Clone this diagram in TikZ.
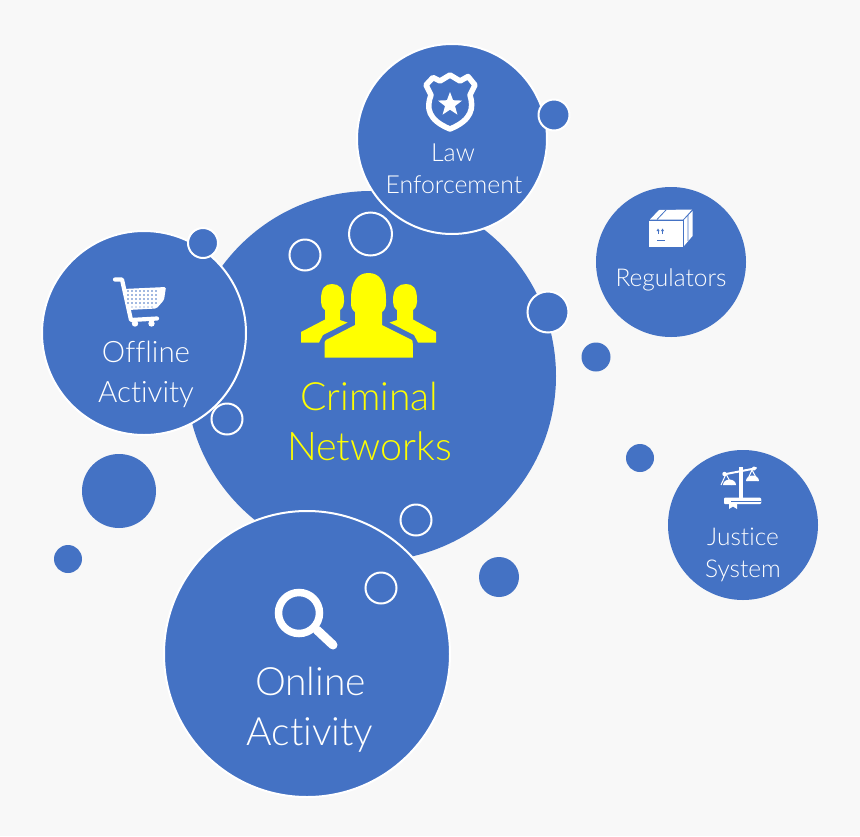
\documentclass[tikz,border=0pt]{standalone}
\usepackage{fontspec}
\setmainfont{Lato}[UprightFont=* Light,Ligatures={NoCommon}]
\definecolor{blu}{HTML}{4472C4}
\definecolor{bg}{HTML}{F8F8F8}
\definecolor{yel}{HTML}{FFFF00}
\tikzset{
 bub/.style={circle,fill=blu,inner sep=0pt,minimum size=#1},
 bubw/.style={circle,fill=blu,draw=white,line width=2pt,inner sep=0pt,minimum size=#1},
 lab/.style={text=white,inner sep=0pt,align=center,anchor=base},
 ylab/.style={text=yel,inner sep=0pt,align=center,anchor=base},
 ic/.style={white,line join=round,line cap=round}
}
\begin{document}
\begin{tikzpicture}[x=1pt,y=-1pt]
\useasboundingbox (0,0) rectangle (860,836);
\fill[bg] (0,0) rectangle (860,836);
% large bubbles
\node[bub=370pt] (main) at (371,376) {};
\node[bubw=204pt] (offline) at (144,333) {};
\node[bubw=190pt] (law) at (452,139) {};
\node[bubw=286pt] (online) at (307,654) {};
\node[bub=150pt] (reg) at (671,262) {};
\node[bub=150pt] (just) at (743,525) {};
% small with border
\node[bubw=31pt] (s1) at (554,115) {};
\node[bubw=30pt] (s2) at (203,243) {};
\node[bub=29pt] (s3) at (596,357) {};
\node[bub=28pt] (s4) at (640,458) {};
\node[bub=74pt] (s5) at (119,491) {};
\node[bub=28pt] (s6) at (68,559) {};
\node[bub=40pt] (s7) at (499,577) {};
% small outlined
\node[bubw=41pt] (o1) at (548,312) {};
\node[bubw=43pt] (o2) at (370.5,234) {};
\node[bubw=31pt] (o3) at (305,255) {};
\node[bubw=31pt] (o4) at (227,419) {};
\node[bubw=31pt] (o5) at (416,520) {};
\node[bubw=31pt] (o6) at (381,588) {};
% shield
\draw[ic,line width=5.5pt] (426,85) -- (433,77.5) -- (440,81) -- (450,75) -- (460,81) -- (468,76.5) -- (475,85) -- (470,95)
 .. controls (474,108) and (472,120) .. (450,129) .. controls (428,120) and (426,108) .. (431,95) -- cycle;
\fill[white] (450,92) -- (453.1,100.2) -- (462,100.6) -- (455,106.1) -- (457.4,114.6) -- (450,109.7) -- (442.6,114.6) -- (445,106.1) -- (438,100.6) -- (446.9,100.2) -- cycle;
% box
\fill[white] (649.3,221) rectangle (682.5,246.7);
\fill[white] (650,219.5) -- (659,210) -- (692,209.5) -- (683,219.5) -- cycle;
\fill[white] (684,220) -- (692.5,211) -- (692.5,236) -- (684,246) -- cycle;
\draw[blu,line width=.8pt] (657,219.5) -- (666,210) (688,215) -- (688,241);
\draw[blu,line width=1pt] (658,234) -- (658,230) (662.5,234) -- (662.5,230) (657,240) -- (665,240);
\fill[blu] (656.5,231) -- (658,228.5) -- (659.5,231) -- cycle (661,231) -- (662.5,228.5) -- (664,231) -- cycle;
% cart
\draw[ic,line width=4.2pt] (115,279.5) -- (122,279.5) -- (131,320) -- (157,318.5);
\fill[white,rounded corners=1.5pt] (123,289) -- (166,287) -- (164,300) -- (156.5,308.5) -- (128,310) -- cycle;
\fill[white] (135,323.5) circle (3.2) (151.5,323.5) circle (3.2);
\foreach \y in {291,295,299,303} \foreach \x in {128,132,...,158}
 \fill[blu] (\x,\y) circle (.8);
\foreach \x in {132,136,...,152} \fill[blu] (\x,307) circle (.7);
% scales
\draw[white,line width=3.2pt] (741,467) -- (741,498);
\draw[white,line width=2pt,line cap=round] (726,474) -- (752,469) -- (756,468);
\draw[white,line width=1pt] (726,474) -- (721,485) (726,474) -- (732,485) (752,470) -- (747,481) (752,470) -- (758,481);
\fill[white] (724.5,474) circle (2.2) (754,468.5) circle (2);
\fill[white] (724,485) -- (736,485) arc (0:-180:6.5 and 5.5) -- cycle;
\fill[white] (746,481) -- (759,481) arc (0:-180:6.5 and 5.5) -- cycle;
\fill[white,rounded corners=1pt] (724,497.5) rectangle (761,504);
\fill[white] (724,499) rectangle (761,503) (729,504) -- (737,504) -- (737,509) -- (733,506.5) -- (729,509) -- cycle;
\draw[blu,line width=.8pt] (731,501) -- (761,501);
% people
\fill[yel] (321,300) .. controls (321,288) and (325,284) .. (332,284) .. controls (339,284) and (344,288) .. (344,300) -- (344,302) .. controls (344,305) and (343,308) .. (340,310) -- (340,320) -- (347.5,322.5) -- (323,335) -- (319,342.5) -- (301,342.5) -- (301,332) -- (325,319.5) -- (325,310) .. controls (322,308) and (321,305) .. (321,302) -- cycle;
\fill[yel] (417,300) .. controls (417,288) and (413,284) .. (406,284) .. controls (399,284) and (393,288) .. (393,300) -- (393,302) .. controls (393,305) and (394,308) .. (397,310) -- (397,320) -- (389.5,322.5) -- (414,335) -- (418,342.5) -- (436,342.5) -- (436,332) -- (413,319.5) -- (413,310) .. controls (416,308) and (417,305) .. (417,302) -- cycle;
\fill[yel] (351,299) .. controls (351,281) and (358,273) .. (368.5,273) .. controls (379,273) and (386,281) .. (386,299) -- (386,303) .. controls (386,307) and (385,310) .. (382,312) -- (382,325) -- (412,340) .. controls (412.5,341) and (412.8,342) .. (412.8,344) -- (412.8,357.5) -- (324.5,357.5) -- (324.5,344) .. controls (324.5,342) and (325,341) .. (326,340) -- (355,325) -- (355,312) .. controls (352,310) and (351,307) .. (351,303) -- cycle;
% magnifier
\draw[white,line width=7.5pt] (299,613) circle (20.5);
\draw[white,line width=9pt,line cap=round] (317,630) -- (333,645);
% labels
\node[ylab,font=\fontsize{39}{39}\selectfont] (t1) at (369.5,410) {Criminal};
\node[ylab,font=\fontsize{39.5}{39}\selectfont] (t2) at (369.5,460) {Networks};
\node[lab,font=\fontsize{39}{39}\selectfont] (t3) at (310.5,695) {Online};
\node[lab,font=\fontsize{39}{39}\selectfont] (t4) at (310,745) {Activity};
\node[lab,font=\fontsize{29.5}{29}\selectfont] (t5) at (146,362) {Offline};
\node[lab,font=\fontsize{29.5}{29}\selectfont] (t6) at (146,402) {Activity};
\node[lab,font=\fontsize{25}{25}\selectfont] (t7) at (453,161) {Law};
\node[lab,font=\fontsize{24.8}{25}\selectfont] (t8) at (454,193) {Enforcement};
\node[lab,font=\fontsize{24.5}{25}\selectfont] (t9) at (671,286) {Regulators};
\node[lab,font=\fontsize{24.5}{25}\selectfont] (t10) at (743,545) {Justice};
\node[lab,font=\fontsize{24.5}{25}\selectfont] (t11) at (743,577) {System};
\end{tikzpicture}
\end{document}
